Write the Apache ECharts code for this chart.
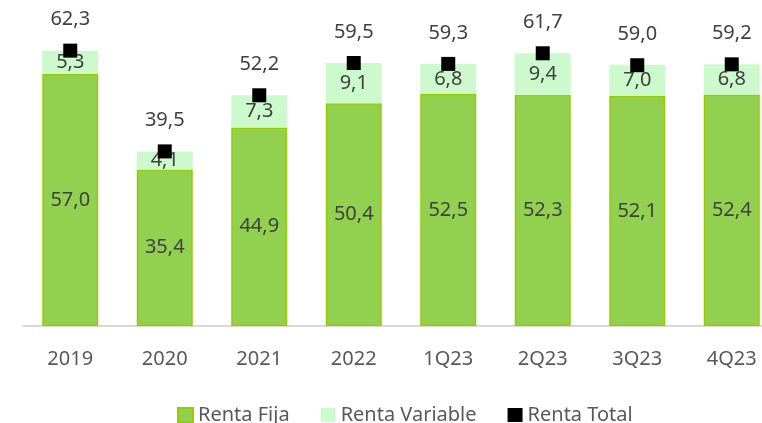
<!DOCTYPE html>
<html>
<head>
<meta charset="utf-8">
<script src="https://cdn.jsdelivr.net/npm/echarts@6/dist/echarts.min.js"></script>
<style>
  html, body { margin: 0; padding: 0; background: #ffffff; }
  #chart { width: 762px; height: 423px; }
</style>
</head>
<body>
<div id="chart"></div>
<script>
// Periods on the x axis
const categories = ['2019', '2020', '2021', '2022', '1Q23', '2Q23', '3Q23', '4Q23'];
// Fixed income, variable income and total income
const rentaFija = [57.0, 35.4, 44.9, 50.4, 52.5, 52.3, 52.1, 52.4];
const rentaVariable = [5.3, 4.1, 7.3, 9.1, 6.8, 9.4, 7.0, 6.8];
const rentaTotal = [62.3, 39.5, 52.2, 59.5, 59.3, 61.7, 59.0, 59.2];

const FONT = 'Noto Sans';
const LABEL_COLOR = '#404040';
const fmt = p => p.value.toFixed(1).replace('.', ',');

const chart = echarts.init(document.getElementById('chart'), null, { renderer: 'canvas' });

chart.setOption({
  animation: false,
  backgroundColor: '#ffffff',
  textStyle: { fontFamily: FONT },
  grid: {
    left: 23,
    width: 756,
    top: 16.6,
    bottom: 97,
    containLabel: false,
    outerBoundsMode: 'none'
  },
  legend: {
    left: 172,
    top: 400,
    itemWidth: 15,
    itemHeight: 14,
    itemGap: 31,
    icon: 'rect',
    textStyle: { fontFamily: FONT, fontSize: 20, color: '#595959' },
    data: ['Renta Fija', 'Renta Variable', 'Renta Total']
  },
  xAxis: {
    type: 'category',
    data: categories,
    axisLine: { lineStyle: { color: '#d9d9d9', width: 2 } },
    axisTick: { show: false },
    axisLabel: { fontFamily: FONT, fontSize: 20, color: '#595959', margin: 23 }
  },
  yAxis: {
    type: 'value',
    min: 0,
    max: 70,
    show: false,
    splitLine: { show: false }
  },
  series: [
    {
      name: 'Renta Fija',
      type: 'bar',
      stack: 'renta',
      barWidth: 56,
      data: rentaFija,
      itemStyle: { color: '#92d050', borderColor: '#99cc00', borderWidth: 1.5 },
      label: {
        show: true,
        position: 'inside',
        formatter: fmt,
        fontFamily: FONT,
        fontSize: 20,
        color: LABEL_COLOR
      }
    },
    {
      name: 'Renta Variable',
      type: 'bar',
      stack: 'renta',
      barWidth: 56,
      data: rentaVariable,
      itemStyle: { color: '#cdfacd' },
      label: {
        show: true,
        position: 'inside',
        formatter: fmt,
        fontFamily: FONT,
        fontSize: 20,
        color: LABEL_COLOR
      }
    },
    {
      name: 'Renta Total',
      type: 'scatter',
      data: rentaTotal,
      symbol: 'rect',
      symbolSize: 14,
      itemStyle: { color: '#000000', opacity: 1 },
      z: 5,
      label: {
        show: true,
        position: 'top',
        distance: 14,
        formatter: fmt,
        fontFamily: FONT,
        fontSize: 20,
        color: LABEL_COLOR
      }
    }
  ]
});
</script>
</body>
</html>
